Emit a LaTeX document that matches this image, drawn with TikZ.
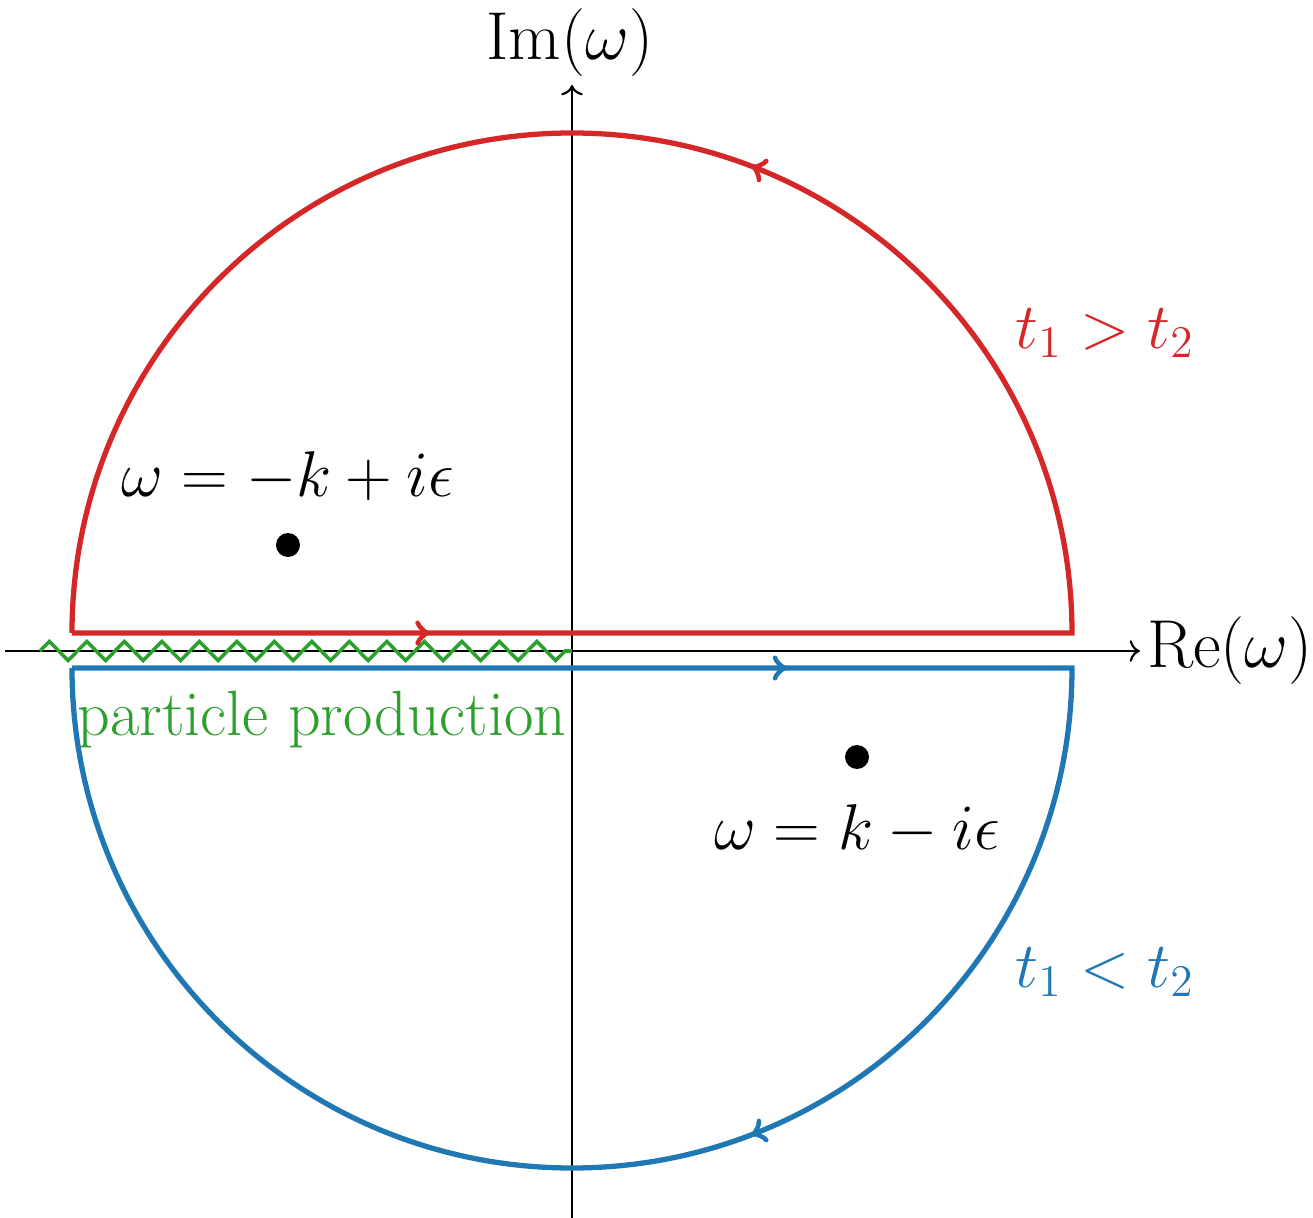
\documentclass[tikz,border=0pt]{standalone}
\usepackage{fix-cm}
\usepackage{amsmath, amssymb}
\usetikzlibrary{calc, arrows.meta}
\usetikzlibrary{decorations.pathmorphing, decorations.markings}
\usepackage{xcolor}

\definecolor{cred}{RGB}{214,39,40}
\definecolor{cblue}{RGB}{31,119,180}
\definecolor{cgreen}{RGB}{44,160,44}

\tikzset{
  midarrow/.style={postaction={decorate},
    decoration={markings, mark=at position #1 with {\arrow{to[scale=1.35]}}}},
  contour/.style={line width=1.5pt},
  pole/.style={circle, fill=black, inner sep=0pt, minimum size=0.24cm},
  lbl/.style={font=\fontsize{18.4}{22}\selectfont},
  axlbl/.style={font=\fontsize{19.3}{23}\selectfont},
}

\begin{document}
\begin{tikzpicture}

                    \useasboundingbox (-5.72,-5.67) rectangle (7.41,6.51);

                    % 軸
                    \coordinate (xl) at (-5.67,0);
                    \coordinate (xr) at (5.68,0);
                    \coordinate (yb) at (0,-5.67);
                    \coordinate (yt) at (0,5.66);
                    \draw[semithick, ->] (xl) -- (xr);
                    \draw[semithick, ->] (yb) -- (yt);
                    \node[axlbl, anchor=west, inner sep=1pt] (re) at (5.71,0) {$\mathrm{Re}(\omega)$};
                    \node[axlbl] (im) at (-0.02,6.08) {$\mathrm{Im}(\omega)$};

                    % 粒子生成のカット
                    \coordinate (cutl) at (-5.32,0);
                    \coordinate (cutr) at (0,0);
                    \draw[cgreen, line width=1pt, decorate,
                          decoration={zigzag, segment length=0.375cm, amplitude=0.095cm}]
                          (cutl) -- (cutr);

                    % 上半面の経路 (t1 > t2)
                    \draw[cred, contour, midarrow=0.139, midarrow=0.623]
                          (-5,0.18) -- (5,0.18) arc[start angle=0, end angle=180, radius=5];

                    % 下半面の経路 (t1 < t2)
                    \draw[cblue, contour, midarrow=0.278, midarrow=0.623]
                          (-5,-0.17) -- (5,-0.17) arc[start angle=0, end angle=-180, radius=5];

                    % 極
                    \node[pole] (p1) at (-2.84,1.06) {};
                    \node[pole] (p2) at (2.85,-1.06) {};
                    \node[lbl] (p1lbl) at (-2.84,1.74) {$\omega = -k + i\epsilon$};
                    \node[lbl] (p2lbl) at (2.85,-1.79) {$\omega = k - i\epsilon$};

                    \node[lbl, cred] (tgt) at (5.33,3.18) {$t_1 > t_2$};
                    \node[lbl, cblue] (tlt) at (5.33,-3.21) {$t_1 < t_2$};
                    \node[cgreen, font=\fontsize{18.2}{22}\selectfont] (pp) at (-2.50,-0.69) {particle production};

                \end{tikzpicture}
\end{document}
